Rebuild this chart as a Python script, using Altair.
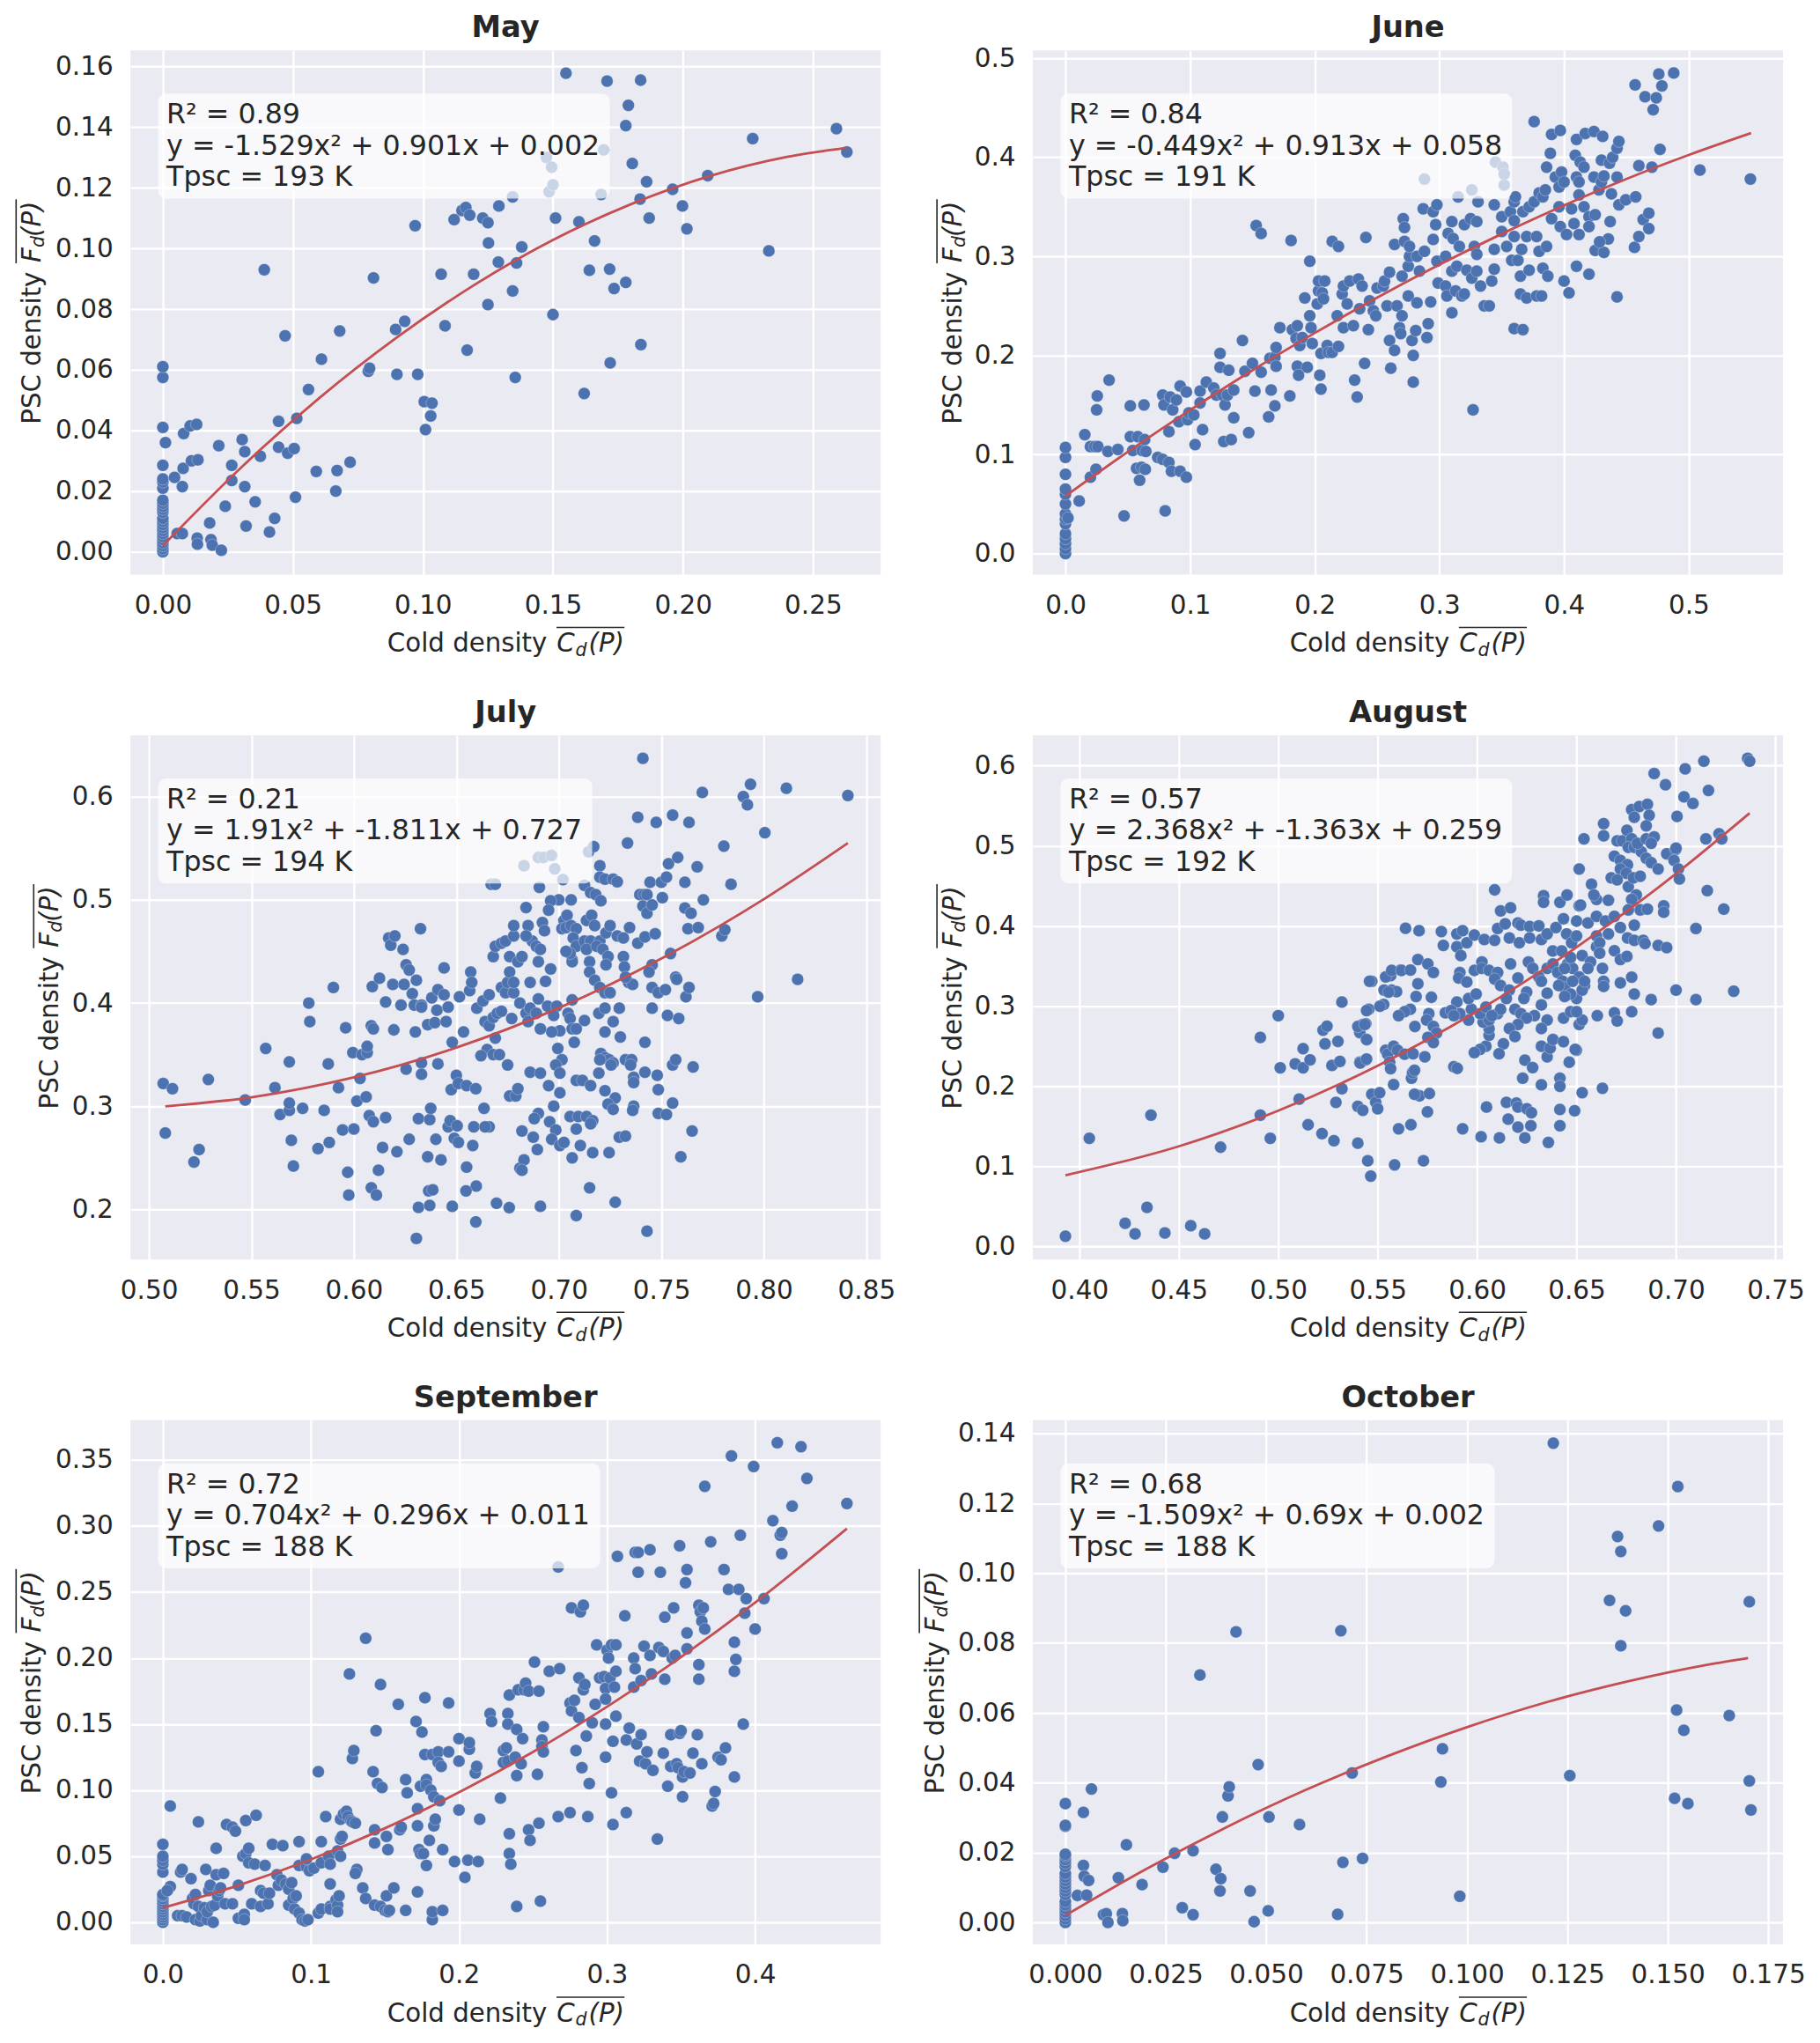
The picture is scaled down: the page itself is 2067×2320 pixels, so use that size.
import altair as alt
import pandas as pd

FONT = "DejaVu Sans"
INK = "#262626"

may_zero = [0,.001,.002,.003,.004,.005,.006,.007,.008,.009,.010,.011,.013,.014,.015,.016,.017,.021,.023,.024,.0285,.041,.0575,.061]
may_pts = [(.001,.036),(.0045,.0245),(.0075,.0215),(.0078,.0275),(.008,.039),(.0105,.0415),(.013,.042),(.011,.030),(.0135,.0303),(.0055,.006),(.0075,.006),(.0132,.0045),(.0133,.0025),(.018,.0095),(.0185,.004),(.019,.0022),(.0225,.0005),(.024,.015),(.0265,.0235),(.0265,.0285),(.0215,.035),(.0305,.037),(.0315,.033),(.0315,.0215),(.032,.0085),(.0355,.0165),(.0375,.0315),(.041,.0065),(.043,.011),(.0445,.043),(.0445,.0345),(.048,.0325),(.0505,.034),(.051,.018),(.0515,.044),(.056,.0535),(.059,.0265),(.061,.0635),(.0665,.02),(.067,.0268),(.068,.0728),(.072,.0295),(.039,.093),(.047,.0712),(.079,.0595),(.0795,.0605),(.081,.0903),(.0895,.0733),(.09,.0585),(.093,.076),(.097,.1075),(.098,.0585),(.1005,.0495),(.101,.0403),(.103,.0448),(.1035,.049),(.107,.0915),(.1085,.0745),(.112,.1095),(.115,.1125),(.1165,.1135),(.117,.0665),(.118,.111),(.1195,.0915),(.123,.11),(.125,.1085),(.1252,.1018),(.125,.0815),(.129,.0955),(.1292,.114),(.1345,.117),(.1345,.086),(.1355,.0575),(.136,.0952),(.138,.1005),(.1475,.13),(.1485,.1187),(.1495,.1268),(.15,.121),(.15,.0782),(.151,.11),(.155,.1578),(.16,.1088),(.162,.0522),(.164,.0928),(.166,.1025),(.1685,.1178),(.1695,.1325),(.1708,.1552),(.1718,.0932),(.172,.0623),(.1735,.0868),(.178,.1405),(.178,.0888),(.179,.1472),(.1805,.128),(.1835,.1163),(.1837,.1555),(.1838,.0683),(.186,.122),(.187,.11),(.196,.1195),(.1998,.114),(.2015,.1065),(.2095,.124),(.2268,.1362),(.233,.0992),(.259,.1395),(.263,.1318)]
may_fit = [(0,.002),(.03,.0277),(.06,.0506),(.09,.0707),(.12,.0881),(.15,.1028),(.18,.1146),(.21,.1238),(.24,.1302),(.263,.1332)]

june_zero = [0,.005,.01,.015,.02,.03,.035,.04,.05,.06,.065,.08,.097,.107]
june_pts = [(.002,.036),(.011,.053),(.0155,.12),(.02,.108),(.02,.077),(.0235,.108),(.0245,.085),(.025,.145),(.0255,.159),(.026,.108),(.034,.103),(.035,.175),(.042,.105),(.047,.038),(.052,.149),(.052,.118),(.054,.104),(.057,.086),(.058,.118),(.0595,.074),(.061,.087),(.0615,.104),(.063,.15),(.0635,.115),(.064,.085),(.0645,.103),(.074,.097),(.078,.095),(.08,.043),(.078,.16),(.079,.15),(.083,.092),(.083,.123),(.084,.158),(.085,.083),(.086,.145),(.089,.155),(.091,.133),(.092,.083),(.092,.169),(.097,.163),(.097,.077),(.098,.135),(.099,.142),(.103,.14),(.104,.11),(.108,.164),(.108,.152),(.110,.125),(.113,.173),(.119,.167),(.121,.160),(.124,.188),(.124,.202),(.126,.16),(.127,.113),(.128,.15),(.13,.16),(.131,.185),(.133,.115),(.135,.165),(.135,.137),(.142,.215),(.144,.184),(.147,.122),(.15,.192),(.152,.164),(.153,.331),(.157,.323),(.157,.183),(.163,.138),(.164,.197),(.165,.165),(.168,.198),(.169,.208),(.168,.149),(.169,.189),(.172,.228),(.18,.159),(.181,.316),(.182,.226),(.185,.217),(.186,.189),(.186,.23),(.188,.21),(.187,.18),(.19,.218),(.192,.258),(.194,.188),(.196,.295),(.196,.24),(.197,.228),(.198,.212),(.202,.252),(.203,.265),(.203,.275),(.204,.18),(.205,.202),(.206,.263),(.205,.166),(.207,.257),(.208,.275),(.21,.21),(.211,.203),(.214,.315),(.214,.203),(.219,.31),(.219,.209),(.218,.24),(.222,.262),(.223,.27),(.223,.228),(.226,.252),(.228,.275),(.231,.23),(.232,.175),(.234,.158),(.235,.277),(.236,.247),(.238,.27),(.241,.319),(.24,.192),(.243,.226),(.244,.255),(.247,.245),(.249,.24),(.25,.268),(.255,.27),(.256,.275),(.258,.25),(.26,.215),(.261,.187),(.26,.284),(.264,.312),(.264,.205),(.266,.25),(.268,.228),(.269,.222),(.27,.28),(.27,.24),(.272,.315),(.271,.338),(.272,.329),(.275,.26),(.275,.29),(.276,.3),(.276,.31),(.278,.215),(.279,.173),(.279,.2),(.281,.225),(.282,.3),(.282,.253),(.284,.285),(.287,.348),(.288,.305),(.29,.218),(.291,.232),(.293,.254),(.295,.317),(.295,.345),(.297,.332),(.298,.295),(.298,.352),(.299,.273),(.288,.378),(.305,.3),(.305,.27),(.306,.26),(.307,.323),(.31,.335),(.31,.243),(.31,.285),(.311,.318),(.313,.265),(.314,.29),(.315,.36),(.316,.31),(.318,.26),(.32,.262),(.32,.332),(.322,.286),(.325,.338),(.326,.367),(.326,.278),(.327,.145),(.328,.31),(.33,.335),(.331,.355),(.33,.285),(.33,.302),(.333,.27),(.336,.25),(.34,.25),(.342,.275),(.344,.307),(.344,.287),(.344,.352),(.345,.395),(.35,.325),(.35,.34),(.352,.372),(.351,.39),(.352,.383),(.354,.31),(.357,.345),(.358,.296),(.36,.32),(.36,.355),(.36,.336),(.361,.36),(.36,.227),(.363,.296),(.365,.262),(.365,.28),(.366,.307),(.367,.345),(.37,.258),(.37,.32),(.367,.226),(.372,.35),(.372,.286),(.376,.355),(.376,.436),(.378,.32),(.378,.26),(.38,.305),(.38,.364),(.382,.26),(.383,.288),(.383,.36),(.385,.367),(.386,.39),(.386,.31),(.387,.28),(.389,.404),(.39,.338),(.39,.423),(.393,.38),(.396,.37),(.396,.35),(.397,.33),(.398,.385),(.397,.427),(.4,.375),(.4,.275),(.402,.322),(.404,.263),(.406,.348),(.408,.333),(.409,.402),(.41,.38),(.41,.29),(.412,.375),(.412,.322),(.412,.362),(.413,.395),(.41,.418),(.416,.35),(.416,.39),(.42,.34),(.42,.282),(.42,.33),(.417,.424),(.424,.38),(.425,.342),(.425,.306),(.428,.367),(.43,.375),(.43,.397),(.424,.426),(.432,.304),(.4425,.259),(.4355,.3175),(.4285,.3145),(.437,.335),(.438,.363),(.444,.352),(.4495,.357),(.432,.381),(.4365,.394),(.439,.40),(.4425,.409),(.444,.416),(.431,.421),(.4425,.38),(.4565,.309),(.457,.473),(.46,.32),(.4575,.36),(.46,.3915),(.4635,.337),(.465,.461),(.468,.3435),(.468,.328),(.4705,.39),(.4715,.448),(.474,.46),(.476,.484),(.4785,.472),(.477,.408),(.488,.485),(.509,.387),(.5495,.378)]
june_fit = [(0,.058),(.05,.1026),(.1,.1448),(.15,.1849),(.2,.2226),(.25,.2582),(.3,.2915),(.35,.3226),(.4,.3514),(.45,.378),(.5,.4022),(.55,.4243)]

july_pts = [(.507,.322),(.5115,.317),(.508,.274),(.522,.246),(.5245,.258),(.529,.326),(.547,.306),(.557,.356),(.5615,.318),(.564,.292),(.5685,.296),(.5685,.303),(.5685,.343),(.5695,.267),(.5705,.242),(.575,.298),(.578,.4),(.5785,.382),(.5825,.259),(.5855,.296),(.5875,.341),(.588,.265),(.59,.415),(.5925,.318),(.5945,.277),(.596,.376),(.597,.236),(.5975,.214),(.5995,.352),(.6,.278),(.6015,.305),(.603,.327),(.604,.35),(.606,.309),(.6065,.352),(.6065,.358),(.6075,.291),(.6095,.285),(.6085,.378),(.6095,.375),(.609,.416),(.6085,.221),(.611,.214),(.612,.238),(.6125,.424),(.614,.26),(.6155,.401),(.6155,.289),(.617,.463),(.618,.456),(.619,.418),(.6195,.374),(.62,.465),(.621,.256),(.623,.398),(.624,.452),(.6245,.418),(.6255,.336),(.6255,.437),(.627,.432),(.627,.268),(.6285,.409),(.6295,.398),(.63,.372),(.6305,.422),(.6315,.288),(.633,.398),(.633,.396),(.6305,.172),(.6315,.202),(.6325,.472),(.633,.342),(.633,.331),(.636,.379),(.636,.251),(.6365,.218),(.637,.204),(.637,.287),(.6375,.298),(.638,.405),(.6385,.219),(.6395,.381),(.64,.268),(.6405,.393),(.641,.341),(.641,.413),(.644,.408),(.6425,.248),(.644,.434),(.645,.382),(.646,.396),(.646,.28),(.647,.286),(.6475,.316),(.648,.203),(.648,.362),(.649,.269),(.65,.33),(.651,.322),(.6515,.406),(.651,.265),(.6535,.372),(.655,.32),(.6565,.412),(.657,.43),(.6575,.42),(.6585,.28),(.6595,.317),(.655,.241),(.658,.262),(.6597,.2226),(.6547,.218),(.6595,.188),(.6696,.206),(.6758,.2017),(.6504,.281),
(.66,.395),(.663,.402),(.666,.408),(.664,.382),(.666,.378),(.668,.386),(.67,.39),(.672,.392),(.665,.355),(.668,.35),(.669,.366),(.662,.349),(.671,.35),(.666,.28),(.664,.28),(.6635,.298),(.672,.415),(.674,.41),(.675,.42),(.676,.43),(.678,.41),(.678,.42),(.668,.445),(.669,.455),(.672,.458),(.674,.46),(.676,.445),(.678,.465),(.68,.44),(.682,.445),(.676,.31),(.679,.31),(.68,.317),(.675,.34),(.682,.276),(.681,.24),(.683,.248),(.682,.238),(.677,.385),(.681,.4),(.684,.39),(.685,.382),(.686,.395),(.686,.42),(.686,.333),(.687,.46),(.689,.455),(.691,.452),(.69,.44),(.689,.39),
(.6905,.512),(.667,.515),(.669,.515),(.683,.533),(.69,.541),(.6925,.541),(.6964,.543),(.698,.53),(.702,.5195),(.7125,.514),(.7145,.5465),(.717,.5515),(.72,.533),(.72,.522),(.7225,.52),(.7265,.52),(.7285,.5175),(.7155,.507),(.718,.505),(.7205,.499),(.7,.5),(.696,.499),(.695,.49),(.706,.5),(.684,.4925),(.692,.478),(.685,.475),(.693,.47),(.678,.475),(.684,.465),(.7025,.48),(.704,.485),(.7015,.472),(.7035,.473),(.706,.475),(.7085,.472),(.707,.463),(.7135,.48),(.716,.485),(.7175,.475),(.7085,.455),(.7125,.46),(.7155,.46),(.72,.46),(.723,.468),(.725,.475),(.7285,.465),(.7315,.463),(.7135,.452),(.7185,.455),(.7215,.452),(.724,.445),(.7065,.442),(.7065,.44),(.7055,.448),(.7035,.45),(.715,.44),(.715,.43),(.7175,.422),(.72,.415),(.7225,.41),(.725,.41),(.723,.437),(.7315,.445),(.732,.435),(.734,.42),(.736,.418),(.7325,.425),(.696,.433),(.6935,.421),(.7065,.403),(.69,.404),(.6945,.397),(.699,.397),(.6975,.388),(.7045,.39),(.7055,.385),(.7125,.383),(.7195,.39),(.7225,.395),(.7295,.395),(.7005,.373),(.7065,.375),(.7085,.375),(.6965,.372),(.691,.375),(.7225,.372),(.7265,.382),(.7075,.362),(.6995,.356),(.73,.367),(.7205,.351),(.7225,.347),(.7245,.345),(.7265,.342),(.7325,.345),(.7355,.345),(.735,.34),(.72,.345),(.7015,.345),(.6985,.34),(.7005,.332),(.691,.332),(.7195,.332),(.7255,.34),(.7365,.328),(.7365,.323),(.7085,.325),(.7115,.325),(.7155,.32),(.7225,.315),(.695,.32),(.7005,.313),(.7275,.308),(.724,.302),(.7265,.297),(.7365,.3),(.736,.296),(.6975,.3),(.69,.293),(.688,.288),(.7055,.29),(.7095,.29),(.7135,.29),(.7165,.286),(.7155,.283),(.6955,.285),(.6985,.277),(.7085,.278),(.6965,.268),(.7005,.262),(.7025,.265),(.7105,.262),(.7065,.25),(.7165,.255),(.7245,.255),(.7295,.27),(.7325,.271),(.6875,.27),(.6895,.258),(.715,.221),(.7275,.207),(.7085,.194),(.743,.179),(.691,.203),(.741,.637),
(.7335,.555),(.7385,.58),(.7395,.505),(.7415,.505),(.743,.505),(.741,.494),(.743,.487),(.7455,.495),(.7445,.517),(.7475,.575),(.7505,.502),(.75,.517),(.7525,.522),(.7535,.535),(.758,.541),(.7615,.517),(.7615,.492),(.763,.472),(.7645,.487),(.7635,.575),(.7555,.582),(.7675,.532),(.768,.473),(.77,.604),(.7705,.5),(.7805,.552),(.7795,.465),(.781,.471),(.784,.515),(.79,.6),(.792,.592),(.7935,.612),(.797,.406),(.8005,.565),(.811,.608),(.8165,.423),(.841,.601),(.7345,.473),(.7385,.458),(.742,.464),(.747,.467),(.7545,.448),(.7455,.437),(.744,.43),(.7455,.415),(.7485,.41),(.752,.413),(.757,.425),(.7575,.423),(.762,.406),(.7635,.415),(.7455,.395),(.753,.388),(.7585,.385),(.742,.362),(.742,.333),(.748,.33),(.7555,.34),(.757,.345),(.7655,.338),(.7485,.316),(.7555,.303),(.7485,.293),(.7525,.292),(.765,.276),(.7595,.251)]
july_fit = [(.508,.2999),(.55,.3087),(.6,.328),(.65,.3568),(.7,.3952),(.75,.4431),(.8,.5006),(.841,.5549)]

aug_pts = [(.393,.013),(.405,.135),(.423,.029),(.428,.016),(.434,.049),(.436,.164),(.443,.017),(.456,.026),(.463,.016),(.471,.124),(.491,.164),(.491,.261),(.496,.135),(.5,.288),(.501,.223),(.5085,.228),(.5105,.184),(.5125,.247),(.5125,.223),(.515,.152),(.516,.233),(.522,.141),(.5225,.27),(.5235,.253),(.5245,.275),(.527,.226),(.528,.132),(.529,.18),(.53,.256),(.531,.231),(.532,.305),(.532,.197),(.54,.129),(.54,.175),(.541,.267),(.541,.23),(.5425,.17),(.5425,.277),(.544,.233),(.544,.278),(.5445,.258),(.545,.107),(.5455,.296),(.5465,.088),(.547,.331),(.547,.19),(.549,.18),(.55,.172),(.551,.192),(.553,.302),(.554,.245),(.555,.24),(.556,.23),(.5565,.222),(.5565,.338),(.557,.32),(.558,.25),(.558,.202),(.5585,.102),(.5595,.318),(.56,.245),(.5605,.147),(.5615,.345),(.5635,.24),
(.6088,.445),(.564,.397),(.5708,.394),(.582,.393),(.583,.3757),(.5898,.39),(.5927,.394),(.5898,.374),(.5918,.363),(.5948,.379),(.5986,.3886),(.6036,.383),(.6088,.382),(.6103,.3967),(.6118,.4187),(.6168,.4225),(.6141,.4026),(.6205,.4036),(.622,.401),(.6264,.3994),(.631,.40),(.6162,.385),(.6212,.379),(.6264,.385),(.6323,.383),(.6352,.39),(.6396,.398),(.6334,.4376),(.6334,.4295),(.6416,.4295),(.6452,.4386),(.6434,.409),(.645,.39),(.6475,.379),(.65,.3875),(.65,.406),(.6513,.425),(.652,.426),(.6513,.471),(.6537,.5086),(.6575,.452),(.66,.433),(.6587,.4386),(.6636,.5275),(.6636,.5124),(.666,.432),(.6557,.4036),(.66,.412),(.6645,.406),(.669,.412),(.666,.39),(.672,.398),(.66,.3875),(.66,.374),(.6616,.379),(.669,.369),(.672,.358),(.6753,.362),(.6756,.385),(.679,.382),(.6835,.382),(.6844,.378),(.691,.3757),(.6953,.373),(.6777,.336),(.679,.315),(.672,.329),(.6636,.331),(.6636,.3245),(.6875,.308),(.7,.32),(.71,.308),(.729,.3186),(.6777,.293),(.669,.2917),(.6704,.2815),(.6604,.288),(.691,.2664),(.6499,.245),(.6513,.277),(.6528,.2826),
(.6704,.506),(.673,.506),(.6753,.5194),(.6777,.5086),(.676,.498),(.669,.487),(.672,.4817),(.6756,.4763),(.672,.471),(.675,.4656),(.6674,.46),(.6704,.4575),(.676,.449),(.6786,.46),(.682,.462),(.6777,.545),(.6815,.549),(.6856,.5517),(.679,.5355),(.6865,.538),(.685,.5248),(.679,.498),(.6825,.4925),(.6806,.503),(.685,.5086),(.689,.511),(.6875,.503),(.685,.4844),(.6875,.479),(.691,.471),(.68,.4386),(.6777,.433),(.682,.42),(.6856,.421),(.676,.42),(.679,.401),(.6938,.425),(.6938,.417),(.6953,.49),(.6997,.495),(.7,.497),(.699,.4817),(.7012,.471),(.7017,.4586),(.7005,.5366),(.704,.561),(.7085,.5527),(.7163,.569),(.7046,.596),(.714,.6055),(.689,.59),(.6947,.576),(.715,.5086),(.7216,.515),(.723,.5086),(.7157,.444),(.724,.421),(.71,.3967),(.736,.609),(.737,.6055),
(.5913,.3418),(.5907,.335),(.5948,.33),(.5986,.3445),(.6024,.355),(.6024,.347),(.606,.3445),(.6103,.342),(.6088,.3337),(.6118,.3256),(.6162,.32),(.6147,.3095),(.6168,.3525),(.6205,.335),(.6258,.355),(.628,.347),(.631,.3364),(.6323,.331),(.6352,.347),(.6381,.3525),(.6405,.342),(.643,.331),(.644,.323),(.6455,.3525),(.648,.347),(.6513,.3364),(.654,.3256),(.65,.3095),(.647,.315),(.644,.312),(.6352,.316),(.6323,.3014),(.6249,.3175),(.6235,.3095),(.6288,.288),(.6352,.2826),(.6323,.272),(.6434,.285),(.647,.293),(.65,.293),(.619,.296),(.622,.2906),(.6249,.285),(.6205,.277),(.6162,.272),(.619,.262),(.6132,.253),(.611,.2405),(.6044,.25),(.6015,.246),(.5986,.242),(.606,.2637),(.606,.272),(.603,.28),(.606,.2826),(.6015,.2906),(.5971,.296),(.6044,.2987),(.6103,.2906),(.6118,.296),(.6074,.288),(.5957,.2826),(.5913,.2906),(.5957,.3095),(.5995,.315),(.5898,.305),(.584,.2917),(.5869,.2944),(.5883,.288),(.6323,.25),(.6352,.2368),(.6367,.2476),(.6381,.2583),(.6434,.2557),(.6493,.246),(.6463,.23),(.624,.2325),(.6279,.2233),(.6229,.21),(.6323,.2018),(.6416,.21),(.6416,.2),(.6528,.192),(.663,.1975),(.6416,.171),(.649,.1695),(.6416,.1507),(.6358,.13),(.6147,.18),(.6197,.179),(.6205,.174),(.625,.172),(.6273,.167),(.6047,.174),(.6156,.159),(.6205,.149),(.627,.1507),(.624,.1356),(.6112,.1356),(.602,.137),(.5927,.147),(.5883,.2244),(.59,.2223),(.638,.3687),(.6425,.3687),(.647,.3606),(.6528,.363),(.657,.355),(.6616,.366),(.663,.347),(.6557,.347),(.644,.347),(.641,.3256),(.6528,.32),(.654,.331),(.648,.331),
(.5702,.358),(.5752,.3525),(.578,.342),(.5702,.328),(.5693,.312),(.577,.311),(.5664,.296),(.5635,.293),(.5605,.288),(.5757,.2906),(.5746,.2826),(.5687,.2745),(.578,.2745),(.5796,.2664),(.5752,.261),(.578,.2546),(.5678,.2405),(.5737,.2368),(.5511,.2998),(.554,.3364),(.557,.3445),(.562,.3445),(.5459,.331),(.5532,.32),(.5555,.3175),(.5444,.2944),(.54,.2745),(.5435,.277),(.5444,.2583),(.5412,.229),(.5444,.234),
(.5667,.152),(.567,.21),(.5675,.217),(.5685,.22),(.571,.188),(.575,.168),(.5665,.345),(.573,.107),(.5685,.19),(.576,.191)]
aug_fit = [(.393,.089),(.45,.1251),(.5,.1695),(.55,.2256),(.6,.2937),(.65,.3735),(.7,.4652),(.737,.5407)]

sep_zero = [0,.002,.004,.006,.008,.01,.012,.014,.016,.018,.02,.021,.038,.044,.047,.05,.059]
sep_pts = [(.005,.088),(.005,.027),(.003,.024),(.01,.005),(.012,.038),(.013,.04),(.013,.005),(.016,.004),(.019,.033),(.022,.002),(.02,.018),(.021,.014),(.022,.021),(.024,.012),(.024,.076),(.025,.001),(.026,.005),(.028,.011),(.029,.04),(.03,.002),(.03,.008),(.031,.024),(.032,.028),(.033,.012),(.034,.0),(.035,.013),(.036,.036),(.036,.056),(.037,.02),(.038,.024),(.039,.026),(.041,.037),(.042,.014),(.043,.074),(.047,.072),(.047,.014),(.049,.069),(.051,.028),(.051,.003),(.054,.05),(.055,.006),(.055,.002),(.056,.052),(.056,.077),(.058,.045),(.058,.056),(.06,.014),(.062,.044),(.063,.081),(.066,.012),(.066,.024),(.068,.022),(.069,.043),(.071,.014),(.072,.022),(.074,.059),(.077,.036),(.078,.028),(.08,.032),(.081,.058),(.083,.029),(.085,.025),(.085,.013),(.087,.03),(.088,.018),(.089,.01),(.09,.02),(.092,.007),(.092,.043),(.092,.061),(.094,.002),(.096,.001),(.097,.042),(.097,.048),(.098,.002),(.099,.039),(.102,.041),(.105,.114),(.105,.007),(.107,.01),(.107,.045),(.107,.061),(.11,.08),(.112,.05),(.113,.012),(.113,.044),(.113,.01),(.113,.029),(.117,.017),(.118,.013),(.118,.054),(.118,.008),(.119,.02),(.12,.078),(.12,.05),(.12,.063),(.121,.065),(.122,.082),(.124,.084),(.125,.08),(.126,.188),(.127,.077),(.128,.076),(.128,.124),(.129,.13),(.13,.075),(.131,.04),(.13,.037),(.135,.026),(.137,.018),(.137,.215),(.142,.114),(.143,.013),(.143,.06),(.143,.07),(.144,.145),(.145,.105),(.147,.012),(.147,.18),(.148,.102),(.15,.009),(.151,.065),(.151,.02),(.152,.008),(.153,.009),(.152,.055),(.156,.026),(.159,.165),(.16,.07),(.161,.072),(.164,.108),(.164,.009),(.165,.098),(.171,.152),(.172,.086),(.172,.073),(.172,.023),(.173,.055),(.174,.052),(.174,.103),(.175,.144),(.176,.052),(.177,.17),(.177,.127),(.178,.043),(.178,.108),(.178,.104),(.18,.062),(.181,.1),(.182,.127),(.182,.002),(.182,.008),(.183,.073),(.183,.095),(.184,.078),(.186,.129),(.186,.121),(.187,.092),(.188,.118),(.189,.055),(.189,.009),(.193,.129),(.193,.166),(.197,.046),(.2,.085),(.2,.122),(.2,.139),(.204,.034),(.206,.047),(.207,.131),(.207,.136),(.211,.113),(.212,.118),(.213,.046),(.214,.078),(.228,.094),(.221,.158),(.222,.152),(.23,.13),(.23,.121),(.233,.122),(.233,.158),(.232,.132),(.233,.15),(.234,.172),(.234,.067),(.234,.052),(.235,.044),(.238,.125),(.239,.146),(.239,.111),(.239,.012),(.24,.176),(.242,.12),(.243,.139),(.244,.176),(.245,.181),(.247,.175),(.247,.07),(.248,.062),(.251,.197),(.253,.112),(.254,.075),(.254,.175),(.255,.016),(.256,.138),(.256,.133),(.257,.148),(.257,.129),(.261,.19),(.267,.08),(.267,.269),(.268,.192),(.275,.083),(.275,.166),(.276,.238),(.276,.16),(.278,.168),(.279,.13),(.281,.155),(.281,.185),(.282,.235),(.283,.117),(.284,.24),(.284,.176),(.285,.18),(.286,.141),(.287,.08),(.288,.105),(.29,.151),(.292,.165),(.293,.21),(.295,.185),(.298,.186),(.299,.15),(.299,.125),(.299,.177),(.299,.169),(.3,.206),(.301,.2),(.302,.185),(.303,.21),(.303,.098),(.304,.137),(.304,.074),(.305,.178),(.306,.156),(.306,.21),(.306,.19),(.307,.277),(.312,.232),(.313,.138),(.313,.083),(.315,.147),(.318,.178),(.318,.2),(.319,.192),(.319,.28),(.32,.135),(.321,.28),(.321,.265),(.322,.122),(.323,.183),(.323,.142),(.325,.209),(.326,.12),(.327,.129),(.329,.202),(.329,.282),(.33,.188),(.331,.115),(.334,.063),(.335,.208),(.336,.265),(.338,.205),(.339,.184),(.338,.128),(.339,.231),(.341,.103),(.343,.142),(.343,.118),(.344,.2),(.345,.238),(.346,.202),(.347,.12),(.348,.117),(.349,.143),(.349,.285),(.35,.145),(.351,.095),(.351,.11),(.352,.114),(.353,.257),(.354,.267),(.354,.207),(.354,.219),(.356,.113),(.358,.128),(.361,.142),(.362,.195),(.362,.184),(.362,.24),(.363,.235),(.364,.228),(.364,.12),(.365,.238),(.366,.222),(.366,.33),(.37,.288),(.371,.088),(.372,.09),(.373,.099),(.375,.125),(.377,.123),(.379,.267),(.38,.132),(.382,.252),(.384,.353),(.386,.212),(.386,.11),(.386,.19),(.387,.199),(.389,.252),(.39,.293),(.392,.15),(.393,.234),(.394,.245),(.399,.345),(.4,.222),(.406,.245),(.412,.304),(.415,.363),(.417,.293),(.418,.295),(.418,.279),(.425,.315),(.431,.36),(.435,.336),(.462,.317)]
sep_fit = [(0,.011),(.05,.0276),(.1,.0476),(.15,.0712),(.2,.0984),(.25,.129),(.3,.1632),(.35,.2008),(.4,.242),(.462,.298)]

oct_zero = [0,.001,.002,.003,.004,.005,.006,.008,.009,.01,.011,.012,.013,.014,.016,.017,.018,.019,.0195,.0275,.0278,.034]
oct_pts = [(.003,.0077),(.0045,.0315),(.0045,.0163),(.0047,.0132),(.0053,.0078),(.0058,.012),(.0065,.0382),(.0095,.0022),(.0102,.0025),(.0106,.0),(.0132,.0128),(.0142,.0025),(.0143,.0005),(.0152,.0222),(.0191,.0108),(.0243,.0158),(.0272,.0198),(.0291,.0042),(.0318,.0022),(.0318,.0205),(.0335,.0708),(.0375,.0152),(.0385,.009),(.0387,.0125),(.0391,.0302),(.0405,.0362),(.0408,.0388),(.0425,.0832),(.046,.009),(.047,.0002),(.048,.0452),(.0505,.0033),(.0507,.0302),(.0583,.028),(.0678,.0023),(.0686,.0835),(.0691,.0172),(.0714,.0428),(.074,.0183),(.0935,.0402),(.0939,.0497),(.0982,.0075),(.1215,.1372),(.1256,.042),(.1355,.0922),(.1375,.1105),(.1383,.1062),(.1383,.0792),(.1395,.0892),(.1477,.1135),(.1517,.0355),(.1522,.0608),(.1525,.1248),(.154,.055),(.155,.034),(.1653,.0592),(.1703,.0918),(.1703,.0405),(.1707,.0322)]
oct_fit = [(0,.002),(.02,.0152),(.04,.0272),(.06,.038),(.08,.0475),(.1,.0559),(.12,.0631),(.14,.069),(.16,.0738),(.17,.0757)]

PANELS = [
    dict(title="May", pts=[(0, v) for v in may_zero] + may_pts, fit=may_fit,
         xdom=[-.01246, .276], ydom=[-.00754, .1653],
         xt=[0, .05, .1, .15, .2, .25], yt=[0, .02, .04, .06, .08, .1, .12, .14, .16],
         xf=".2f", yf=".2f", lab=-115, box=545,
         note=["R² = 0.89", "y = -1.529x² + 0.901x + 0.002", "Tpsc = 193 K"]),
    dict(title="June", pts=[(0, v) for v in june_zero] + june_pts, fit=june_fit,
         xdom=[-.0262, .5757], ydom=[-.0213, .5078],
         xt=[0, .1, .2, .3, .4, .5], yt=[0, .1, .2, .3, .4, .5],
         xf=".1f", yf=".1f", lab=-94, box=545,
         note=["R² = 0.84", "y = -0.449x² + 0.913x + 0.058", "Tpsc = 191 K"]),
    dict(title="July", pts=july_pts, fit=july_fit,
         xdom=[.4910, .8570], ydom=[.1515, .6594],
         xt=[.5, .55, .6, .65, .7, .75, .8, .85], yt=[.2, .3, .4, .5, .6],
         xf=".2f", yf=".1f", lab=-95, box=525,
         note=["R² = 0.21", "y = 1.91x² + -1.811x + 0.727", "Tpsc = 194 K"]),
    dict(title="August", pts=aug_pts, fit=aug_fit,
         xdom=[.3766, .7538], ydom=[-.0161, .6378],
         xt=[.4, .45, .5, .55, .6, .65, .7, .75], yt=[0, .1, .2, .3, .4, .5, .6],
         xf=".2f", yf=".1f", lab=-94, box=545,
         note=["R² = 0.57", "y = 2.368x² + -1.363x + 0.259", "Tpsc = 192 K"]),
    dict(title="September", pts=[(0, v) for v in sep_zero] + sep_pts, fit=sep_fit,
         xdom=[-.0219, .4848], ydom=[-.0167, .3801],
         xt=[0, .1, .2, .3, .4], yt=[0, .05, .1, .15, .2, .25, .3, .35],
         xf=".1f", yf=".2f", lab=-115, box=534,
         note=["R² = 0.72", "y = 0.704x² + 0.296x + 0.011", "Tpsc = 188 K"]),
    dict(title="October", pts=[(0, v) for v in oct_zero] + oct_pts, fit=oct_fit,
         xdom=[-.0081, .1787], ydom=[-.0063, .1438],
         xt=[0, .025, .05, .075, .1, .125, .15, .175], yt=[0, .02, .04, .06, .08, .1, .12, .14],
         xf=".3f", yf=".2f", lab=-114, box=525,
         note=["R² = 0.68", "y = -1.509x² + 0.69x + 0.002", "Tpsc = 188 K"]),
]

W, H = 853, 596
ONE = pd.DataFrame({"k": [0]})


def label(text, x, y, size=29.3, style="normal", angle=0, baseline="alphabetic"):
    return alt.Chart(ONE).mark_text(
        text=text, font=FONT, fontSize=size, fontStyle=style, color=INK,
        align="left", baseline=baseline, angle=angle, clip=False,
    ).encode(x=alt.value(x), y=alt.value(y))


def panel(p):
    pts = pd.DataFrame(p["pts"], columns=["x", "y"])
    fit = pd.DataFrame(p["fit"], columns=["x", "y"])
    xs = alt.X("x:Q", title=None, scale=alt.Scale(domain=p["xdom"], nice=False, zero=False),
               axis=alt.Axis(values=p["xt"], format=p["xf"]))
    ys = alt.Y("y:Q", title=None, scale=alt.Scale(domain=p["ydom"], nice=False, zero=False),
               axis=alt.Axis(values=p["yt"], format=p["yf"]))
    scatter = alt.Chart(pts).mark_circle(size=190, color="#4c72b0", opacity=1,
                                         stroke="white", strokeWidth=0.3).encode(x=xs, y=ys)
    line = alt.Chart(fit).mark_line(color="#c44e52", strokeWidth=2.8,
                                    interpolate="monotone").encode(x=xs, y=ys)
    box = alt.Chart(ONE).mark_rect(color="white", opacity=0.7, cornerRadius=9).encode(
        x=alt.value(31.5), x2=alt.value(p["box"]), y=alt.value(49), y2=alt.value(168.5))
    notes = [label(t, 41, yy, size=31.7, baseline="middle")
             for t, yy in zip(p["note"], [73, 108.5, 144])]
    head = alt.Chart(ONE).mark_text(
        text=p["title"], font=FONT, fontSize=33.7, fontWeight="bold", color=INK,
        align="center", baseline="middle", clip=False,
    ).encode(x=alt.value(W / 2), y=alt.value(-25))

    # x-axis label: plain words, then the overlined mathematical symbol
    yb = H + 88
    xlab = [label("Cold density", 292, yb),
            label("C", 484.7, yb, style="italic"),
            label("d", 506, yb + 4.4, size=20.5, style="italic"),
            label("(P)", 521, yb, style="italic"),
            alt.Chart(ONE).mark_rule(color=INK, strokeWidth=1.6).encode(
                x=alt.value(484.4), x2=alt.value(561.7), y=alt.value(H + 60))]
    # y-axis label, rotated
    lx = p["lab"] + 12.7
    ylab = [label("PSC density", lx, 425, angle=270),
            label("F", lx, 241, style="italic", angle=270),
            label("d", lx + 4.4, 224, size=20.5, style="italic", angle=270),
            label("(P)", lx, 212, style="italic", angle=270),
            alt.Chart(ONE).mark_rule(color=INK, strokeWidth=1.6).encode(
                y=alt.value(242), y2=alt.value(169.3), x=alt.value(lx - 27.7))]
    return alt.layer(scatter, line, box, head, *notes, *xlab, *ylab).properties(width=W, height=H)


chart = alt.concat(*[panel(p) for p in PANELS], columns=2,
                   spacing={"row": 182.6, "column": 173}, bounds="flush").properties(
    padding={"left": 9.3, "top": 6, "right": 8, "bottom": 8},
    background="white",
).configure_view(fill="#eaeaf2", stroke=None).configure_axis(
    grid=True, gridColor="white", gridWidth=2.4, domain=False, ticks=False,
    labelFont=FONT, labelFontSize=29.5, labelColor=INK, labelPadding=20,
).configure_axisX(labelPadding=21)

chart.save("out.html", embed_options={"renderer": "svg", "actions": False})
